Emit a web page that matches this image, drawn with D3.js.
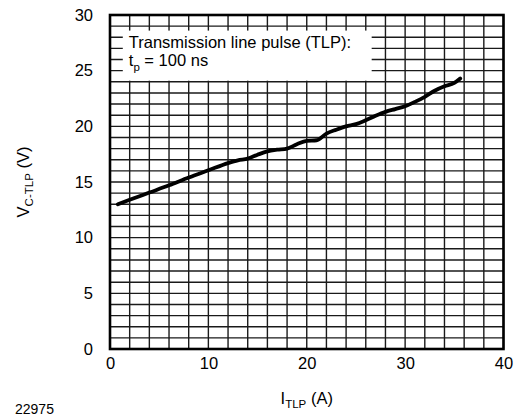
<!DOCTYPE html>
<html>
<head>
<meta charset="utf-8">
<script src="https://cdn.jsdelivr.net/npm/d3@7"></script>
<style>
  html, body { margin: 0; padding: 0; background: #fff; }
  svg { display: block; font-family: "Liberation Sans", Arial, sans-serif; }
</style>
</head>
<body>
<svg id="chart" width="516" height="416"></svg>
<script>
// TLP clamping voltage vs. pulse current
const currentA = [0.8, 2, 4, 6, 8, 10, 12, 13, 14, 15, 16, 17, 18, 19, 20, 21, 22, 23, 24, 25, 26, 27, 28, 29, 30, 31, 32, 33, 34, 35, 35.6];
const voltageV = [13.0, 13.4, 14.05, 14.7, 15.4, 16.05, 16.7, 16.95, 17.1, 17.45, 17.75, 17.9, 18.0, 18.4, 18.7, 18.75, 19.35, 19.7, 20.0, 20.2, 20.55, 20.95, 21.3, 21.55, 21.8, 22.2, 22.65, 23.2, 23.6, 23.9, 24.3];

const xTicks = [0, 10, 20, 30, 40];
const yTicks = [0, 5, 10, 15, 20, 25, 30];
const xGrid = d3.range(0, 40.001, 2);
const yGrid = d3.range(0, 30.001, 1);

// note box region, in data units (A, V)
const noteBoxX = [1.3, 26.6];
const noteBoxY = [24.1, 28.6];
const noteLines = ["Transmission line pulse (TLP):", "t", "p", " = 100 ns"];

const svg = d3.select("#chart");
const plot = { left: 110, right: 503.5, top: 15, bottom: 349 };

const x = d3.scaleLinear().domain([0, 40]).range([plot.left, plot.right]);
const y = d3.scaleLinear().domain([0, 30]).range([plot.bottom, plot.top]);

const fontSize = 16.5;

// grid
const grid = svg.append("g").attr("stroke", "#1a1a1a").attr("stroke-width", 1.4);
grid.selectAll("line.v").data(xGrid).join("line")
  .attr("x1", d => x(d)).attr("x2", d => x(d))
  .attr("y1", y(0)).attr("y2", y(30));
grid.selectAll("line.h").data(yGrid).join("line")
  .attr("x1", x(0)).attr("x2", x(40))
  .attr("y1", d => y(d)).attr("y2", d => y(d));

// white note box masking the grid
svg.append("rect")
  .attr("x", x(noteBoxX[0])).attr("y", y(noteBoxY[1]))
  .attr("width", x(noteBoxX[1]) - x(noteBoxX[0]))
  .attr("height", y(noteBoxY[0]) - y(noteBoxY[1]))
  .attr("fill", "#fff");

// frame
svg.append("rect")
  .attr("x", x(0)).attr("y", y(30))
  .attr("width", x(40) - x(0)).attr("height", y(0) - y(30))
  .attr("fill", "none").attr("stroke", "#000").attr("stroke-width", 2.6);

// curve
const line = d3.line()
  .x((d, i) => x(currentA[i]))
  .y(d => y(d))
  .curve(d3.curveMonotoneX);
svg.append("path")
  .datum(voltageV)
  .attr("d", line)
  .attr("fill", "none")
  .attr("stroke", "#000")
  .attr("stroke-width", 3.8)
  .attr("stroke-linecap", "round")
  .attr("stroke-linejoin", "round");

// axes (labels only)
const xAxis = svg.append("g")
  .attr("transform", `translate(0,${plot.bottom + 8})`)
  .call(d3.axisBottom(x).tickValues(xTicks).tickSize(0).tickPadding(0));
const yAxis = svg.append("g")
  .attr("transform", `translate(${plot.left - 17},0)`)
  .call(d3.axisLeft(y).tickValues(yTicks).tickSize(0).tickPadding(0));
[xAxis, yAxis].forEach(g => {
  g.select(".domain").remove();
  g.selectAll("text")
    .attr("font-family", "'Liberation Sans', Arial, sans-serif")
    .attr("font-size", fontSize)
    .attr("fill", "#000");
});
yAxis.selectAll("text").attr("x", 0);

// note text
const note = svg.append("g")
  .attr("font-size", fontSize).attr("fill", "#000");
note.append("text")
  .attr("x", x(noteBoxX[0]) + 6).attr("y", 47.5)
  .text(noteLines[0]);
const t2 = note.append("text").attr("x", x(noteBoxX[0]) + 6).attr("y", 65.5);
t2.append("tspan").text(noteLines[1]);
t2.append("tspan").attr("font-size", 11.5).attr("dy", 5).text(noteLines[2]);
t2.append("tspan").attr("dy", -5).text(noteLines[3]);

// x-axis title
const xt = svg.append("text")
  .attr("x", (plot.left + plot.right) / 2).attr("y", 404)
  .attr("text-anchor", "middle").attr("font-size", fontSize).attr("fill", "#000");
xt.append("tspan").text("I");
xt.append("tspan").attr("font-size", 11.5).attr("dy", 4).text("TLP");
xt.append("tspan").attr("dy", -4).text(" (A)");

// y-axis title
const yt = svg.append("text")
  .attr("transform", `translate(29,${(plot.top + plot.bottom) / 2}) rotate(-90)`)
  .attr("text-anchor", "middle").attr("font-size", fontSize).attr("fill", "#000");
yt.append("tspan").text("V");
yt.append("tspan").attr("font-size", 11.5).attr("dy", 4).text("C-TLP");
yt.append("tspan").attr("dy", -4).text(" (V)");

// figure number
svg.append("text")
  .attr("x", 15).attr("y", 414)
  .attr("font-size", 14).attr("fill", "#000")
  .text("22975");
</script>
</body>
</html>
